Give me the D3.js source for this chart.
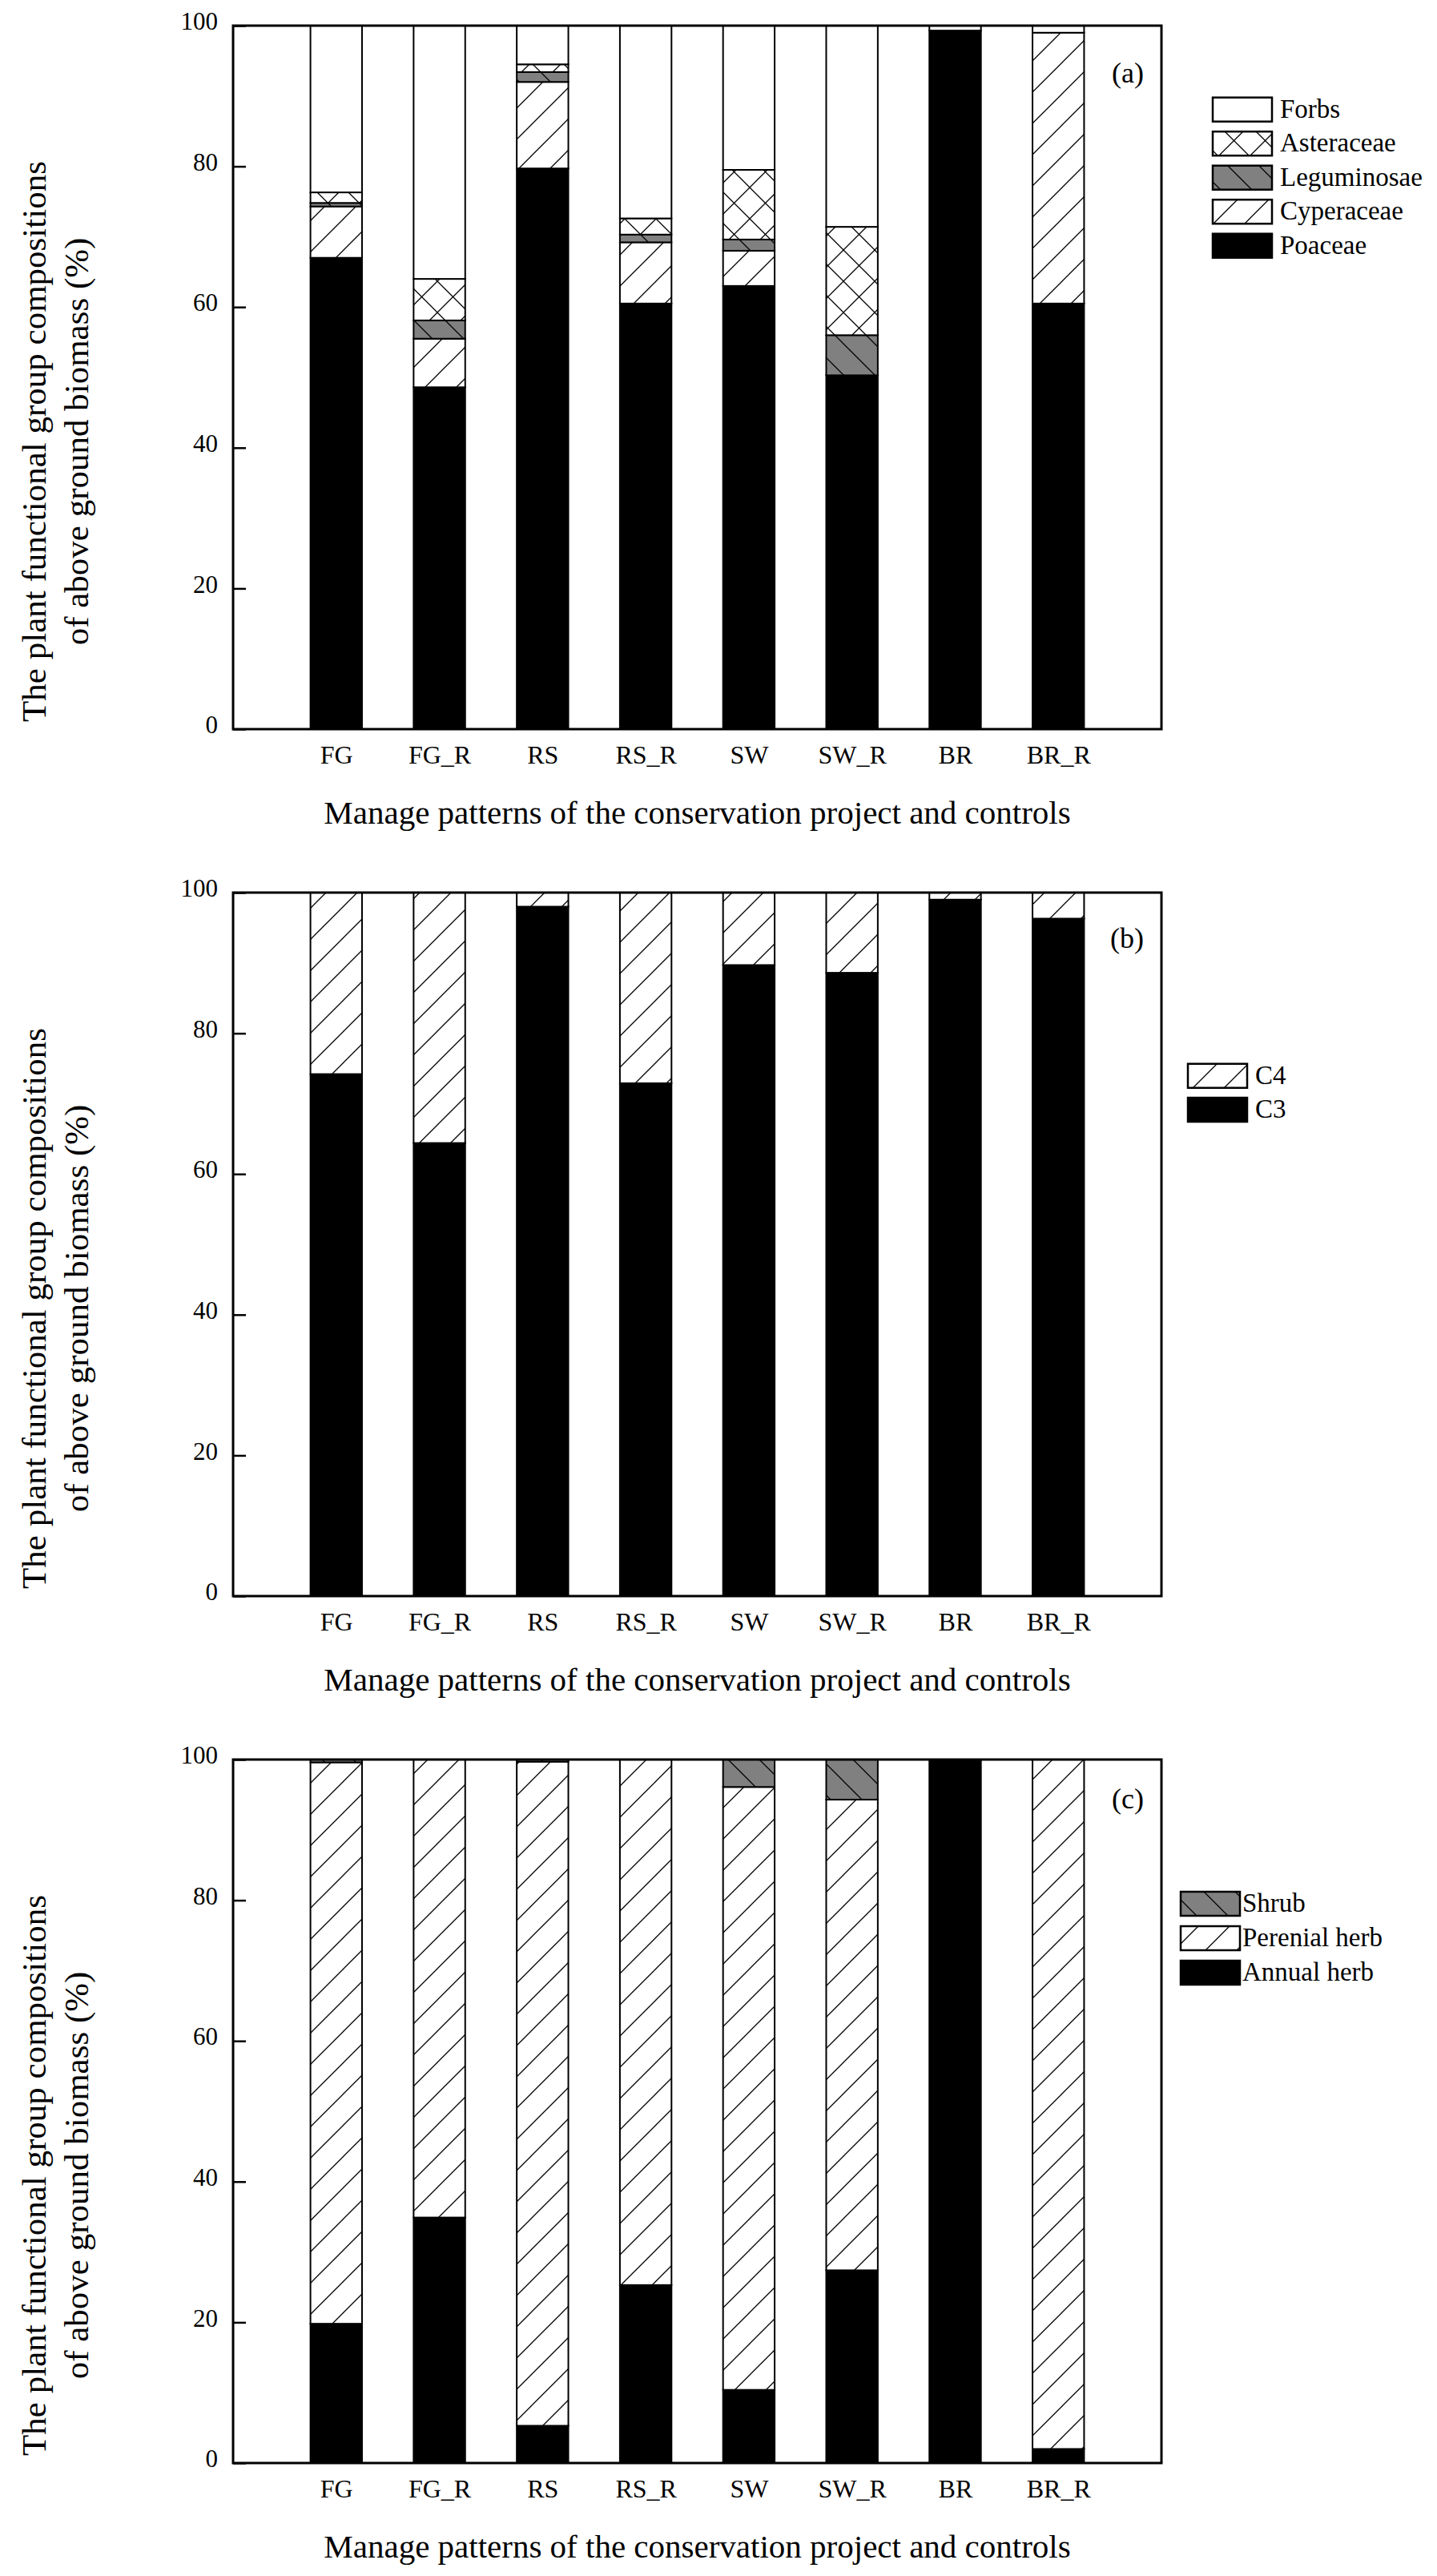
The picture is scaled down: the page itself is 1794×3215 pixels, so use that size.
<!DOCTYPE html>
<html>
<head>
<meta charset="utf-8">
<script src="https://cdn.jsdelivr.net/npm/d3@7/dist/d3.min.js"></script>
<style>
  html, body { margin: 0; padding: 0; background: #fff; }
  text { font-family: "Liberation Serif", "Times New Roman", serif; fill: #000; }
</style>
</head>
<body>
<svg id="chart" width="1794" height="3215"></svg>
<script>
// ---------- DATA ----------
const categories = ["FG", "FG_R", "RS", "RS_R", "SW", "SW_R", "BR", "BR_R"];
const yTicks = [0, 20, 40, 60, 80, 100];

// Panel (a): family groups, stacked bottom -> top
const poaceae     = [67.0, 48.6, 79.7, 60.5, 63.0, 50.3, 99.3, 60.5];
const cyperaceae  = [ 7.3,  6.9, 12.3,  8.7,  5.0,  0.0,  0.0, 38.5];
const leguminosae = [ 0.5,  2.6,  1.4,  1.1,  1.6,  5.7,  0.0,  0.0];
const asteraceae  = [ 1.5,  5.9,  1.1,  2.3,  9.9, 15.4,  0.0,  0.0];
const forbs       = [23.7, 36.0,  5.5, 27.4, 20.5, 28.6,  0.7,  1.0];

// Panel (b): photosynthetic pathway
const c3 = [74.2, 64.4, 98.0, 72.9, 89.7, 88.6, 99.0, 96.3];
const c4 = [25.8, 35.6,  2.0, 27.1, 10.3, 11.4,  1.0,  3.7];

// Panel (c): life forms
const annualHerb   = [19.8, 34.9,  5.3, 25.3, 10.4, 27.4, 100.0,  2.0];
const perenialHerb = [79.8, 65.1, 94.4, 74.7, 85.7, 66.9,   0.0, 98.0];
const shrub        = [ 0.4,  0.0,  0.3,  0.0,  3.9,  5.7,   0.0,  0.0];

const yTitle1 = "The plant functional group compositions";
const yTitle2 = "of above ground biomass (%)";
const xTitle = "Manage patterns of the conservation project and controls";

// ---------- LAYOUT ----------
const svg = d3.select("#chart");
svg.append("rect").attr("width", 1794).attr("height", 3215).attr("fill", "#fff");

const plotLeft = 291, plotRight = 1450, plotH = 878;

// patterns
const defs = svg.append("defs");
const P = 39;
function pattern(id, bg, paths) {
  const p = defs.append("pattern").attr("id", id)
    .attr("patternUnits", "userSpaceOnUse").attr("width", P).attr("height", P);
  p.append("rect").attr("width", P).attr("height", P).attr("fill", bg);
  paths.forEach(d => p.append("path").attr("d", d)
    .attr("stroke", "#000").attr("stroke-width", 1.3).attr("fill", "none"));
}
const fwd = `M-10,10 L10,-10 M0,${P} L${P},0 M${P-10},${P+10} L${P+10},${P-10}`;
const back = `M-10,${P-10} L10,${P+10} M0,0 L${P},${P} M${P-10},-10 L${P+10},10`;
pattern("hatchFwd", "#fff", [fwd]);
pattern("hatchBack", "#808080", [back]);
pattern("cross", "#fff", [fwd, back]);

const styles = {
  forbs: "#fff",
  asteraceae: "url(#cross)",
  leguminosae: "url(#hatchBack)",
  cyperaceae: "url(#hatchFwd)",
  poaceae: "#000",
  c4: "url(#hatchFwd)",
  c3: "#000",
  shrub: "url(#hatchBack)",
  perenial: "url(#hatchFwd)",
  annual: "#000"
};

const panels = [
  {
    top: 32, label: "(a)", labelDy: 71,
    series: [
      {key: "poaceae", name: "Poaceae", values: poaceae},
      {key: "cyperaceae", name: "Cyperaceae", values: cyperaceae},
      {key: "leguminosae", name: "Leguminosae", values: leguminosae},
      {key: "asteraceae", name: "Asteraceae", values: asteraceae},
      {key: "forbs", name: "Forbs", values: forbs}
    ],
    legend: {x: 1514, y: 121.7, step: 42.5, textX: 1598}
  },
  {
    top: 1114, label: "(b)", labelDy: 69,
    series: [
      {key: "c3", name: "C3", values: c3},
      {key: "c4", name: "C4", values: c4}
    ],
    legend: {x: 1483, y: 1327.7, step: 42.3, textX: 1567}
  },
  {
    top: 2196, label: "(c)", labelDy: 61,
    series: [
      {key: "annual", name: "Annual herb", values: annualHerb},
      {key: "perenial", name: "Perenial herb", values: perenialHerb},
      {key: "shrub", name: "Shrub", values: shrub}
    ],
    legend: {x: 1474, y: 2361, step: 43, textX: 1551}
  }
];

const xLin = d3.scaleLinear().domain([0, categories.length + 1]).range([plotLeft, plotRight]);
const xPt = d3.scalePoint().domain(categories).range([xLin(1), xLin(categories.length)]);
const barW = (xLin(1) - xLin(0)) * 0.5;

panels.forEach(panel => {
  const top = panel.top, bottom = top + plotH;
  const y = d3.scaleLinear().domain([0, 100]).range([bottom, top]);
  const g = svg.append("g");

  // table for stack
  const table = categories.map((c, i) => {
    const row = {cat: c};
    panel.series.forEach(s => row[s.key] = s.values[i]);
    return row;
  });
  const stacked = d3.stack().keys(panel.series.map(s => s.key))(table);

  stacked.forEach(layer => {
    g.append("g").selectAll("rect")
      .data(layer.filter(d => d[1] - d[0] > 0))
      .join("rect")
      .attr("x", d => xPt(d.data.cat) - barW / 2)
      .attr("width", barW)
      .attr("y", d => y(d[1]))
      .attr("height", d => y(d[0]) - y(d[1]))
      .attr("fill", styles[layer.key])
      .attr("stroke", "#000")
      .attr("stroke-width", 2);
  });

  // y axis
  const yAxis = d3.axisLeft(y).tickValues(yTicks).tickSizeInner(-16).tickSizeOuter(0).tickPadding(19);
  const ya = g.append("g").attr("transform", `translate(${plotLeft},0)`).call(yAxis);
  ya.select(".domain").remove();
  ya.selectAll(".tick line").attr("stroke", "#000").attr("stroke-width", 2.5);
  ya.selectAll(".tick text").attr("font-size", 31).attr("font-family", "Liberation Serif").attr("dy", "0.15em");

  // x axis
  const xAxis = d3.axisBottom(xPt).tickSize(0).tickPadding(20);
  const xa = g.append("g").attr("transform", `translate(0,${bottom})`).call(xAxis);
  xa.select(".domain").remove();
  xa.selectAll(".tick text").attr("font-size", 32).attr("font-family", "Liberation Serif");

  // frame
  g.append("rect").attr("x", plotLeft).attr("y", top)
    .attr("width", plotRight - plotLeft).attr("height", plotH)
    .attr("fill", "none").attr("stroke", "#000").attr("stroke-width", 3);

  // panel label
  g.append("text").attr("x", 1428).attr("y", top + panel.labelDy)
    .attr("text-anchor", "end").attr("font-size", 36).text(panel.label);

  // x title
  g.append("text").attr("x", (plotLeft + plotRight) / 2).attr("y", bottom + 118)
    .attr("text-anchor", "middle").attr("font-size", 41).text(xTitle);

  // y title
  const cy = (top + bottom) / 2 + 80;
  g.append("text").attr("transform", `translate(57,${cy}) rotate(-90)`)
    .attr("text-anchor", "middle").attr("font-size", 43).text(yTitle1);
  g.append("text").attr("transform", `translate(110,${cy}) rotate(-90)`)
    .attr("text-anchor", "middle").attr("font-size", 43).text(yTitle2);

  // legend (top -> bottom is reverse of stacking order)
  const L = panel.legend;
  const items = panel.series.slice().reverse();
  const lg = g.append("g");
  items.forEach((s, i) => {
    const yy = L.y + i * L.step;
    lg.append("rect").attr("x", L.x).attr("y", yy).attr("width", 74).attr("height", 30)
      .attr("fill", styles[s.key]).attr("stroke", "#000").attr("stroke-width", 2.5);
    lg.append("text").attr("x", L.textX).attr("y", yy + 25).attr("font-size", 33).text(s.name);
  });
});
</script>
</body>
</html>
